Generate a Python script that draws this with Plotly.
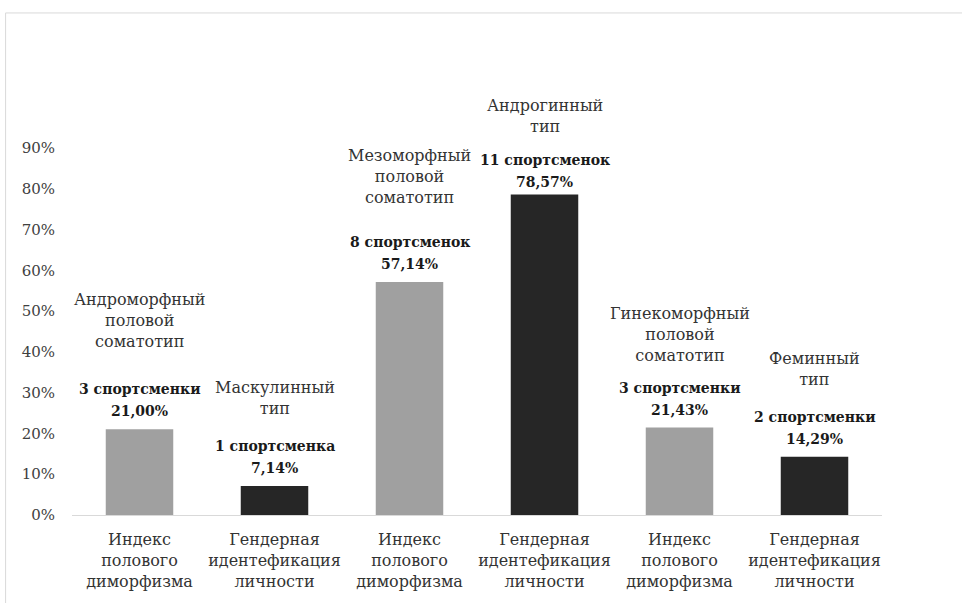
import plotly.graph_objects as go

categories = [
    "Индекс<br>полового<br>диморфизма",
    "Гендерная<br>идентефикация<br>личности",
    "Индекс<br>полового<br>диморфизма",
    "Гендерная<br>идентефикация<br>личности",
    "Индекс<br>полового<br>диморфизма",
    "Гендерная<br>идентефикация<br>личности",
]
values = [0.21, 0.0714, 0.5714, 0.7857, 0.2143, 0.1429]
type_names = [
    "Андроморфный<br>половой<br>соматотип",
    "Маскулинный<br>тип",
    "Мезоморфный<br>половой<br>соматотип",
    "Андрогинный<br>тип",
    "Гинекоморфный<br>половой<br>соматотип",
    "Феминный<br>тип",
]
counts = ["3 спортсменки", "1 спортсменка", "8 спортсменок",
          "11 спортсменок", "3 спортсменки", "2 спортсменки"]
percent_labels = ["21,00%", "7,14%", "57,14%", "78,57%", "21,43%", "14,29%"]
y_ticks = [0, 0.1, 0.2, 0.3, 0.4, 0.5, 0.6, 0.7, 0.8, 0.9]

# styling (not data)
LIGHT = "#a0a0a0"
DARK = "#262626"
bar_colors = [LIGHT, DARK, LIGHT, DARK, LIGHT, DARK]
name_gap_px = [25, 15, 22, 6, 10, 15]
bold_shift_px = [0, 0, 0, -5, 0, 0]
FONT = "DejaVu Serif"

x_idx = list(range(len(categories)))

fig = go.Figure()
fig.add_trace(go.Bar(
    x=x_idx, y=values, width=0.5,
    marker=dict(color=bar_colors, line=dict(width=0)),
    hoverinfo="skip", showlegend=False,
))

annotations = []
for i, v in enumerate(values):
    annotations.append(dict(
        x=i, y=v, xref="x", yref="y",
        text=f"<b>{percent_labels[i]}</b>",
        showarrow=False, xanchor="center", yanchor="bottom",
        yshift=8 + bold_shift_px[i],
        font=dict(family=FONT, size=14, color="#1a1a1a"),
    ))
    annotations.append(dict(
        x=i, y=v, xref="x", yref="y",
        text=f"<b>{counts[i]}</b>",
        showarrow=False, xanchor="center", yanchor="bottom",
        yshift=30 + bold_shift_px[i],
        font=dict(family=FONT, size=14, color="#1a1a1a"),
    ))
    annotations.append(dict(
        x=i, y=v, xref="x", yref="y",
        text=type_names[i],
        showarrow=False, xanchor="center", yanchor="bottom",
        yshift=7 + 44 + name_gap_px[i],
        font=dict(family=FONT, size=16, color="#333333"),
    ))

fig.update_layout(
    width=962, height=603,
    margin=dict(l=72, r=80, t=148, b=88),
    paper_bgcolor="white", plot_bgcolor="white",
    bargap=0.5,
    annotations=annotations,
    shapes=[dict(type="rect", xref="paper", yref="paper",
                 x0=-0.082, x1=1.2, y0=-0.3, y1=1.368,
                 line=dict(color="#d9d9d9", width=1), layer="below")],
    font=dict(family=FONT, size=15, color="#404040"),
)
fig.update_xaxes(
    range=[-0.5, 5.5], tickmode="array", tickvals=x_idx, ticktext=categories,
    showline=True, linecolor="#d9d9d9", linewidth=1, showgrid=False,
    zeroline=False, ticks="", ticklabelstandoff=10,
    tickfont=dict(family=FONT, size=16, color="#333333"),
)
fig.update_yaxes(
    range=[0, 0.9], tickmode="array", tickvals=y_ticks, tickformat=".0%",
    showline=False, showgrid=False, zeroline=False, ticks="",
    ticklabelstandoff=16,
    tickfont=dict(family=FONT, size=15, color="#404040"),
)

fig.write_html("out.html", config={"displayModeBar": False},
               post_script="document.body.style.margin='0';")
